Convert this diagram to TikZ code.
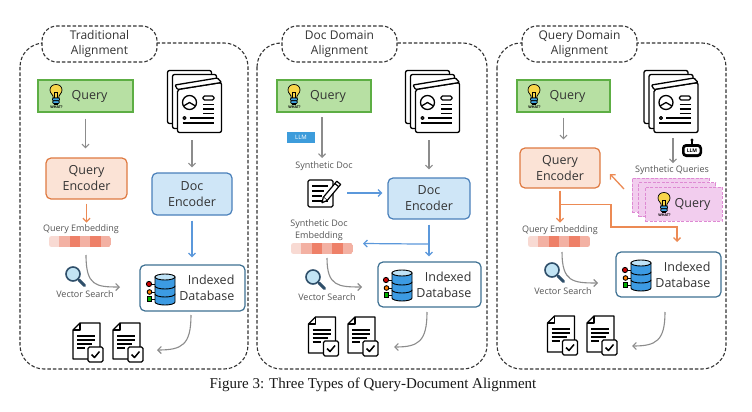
\documentclass[tikz,border=0pt]{standalone}
\usepackage{fontspec}
\setmainfont{Liberation Serif}
\newfontfamily\osans{Open Sans}
\usetikzlibrary{arrows.meta,calc}
\definecolor{qgfill}{HTML}{B7E0A3}
\definecolor{qgline}{HTML}{5DAE44}
\definecolor{qefill}{HTML}{FBE3D6}
\definecolor{qeline}{HTML}{DF7A41}
\definecolor{defill}{HTML}{CFE6F7}
\definecolor{deline}{HTML}{4A80BA}
\definecolor{dbline}{HTML}{3E7193}
\definecolor{garr}{HTML}{8C8C8C}
\definecolor{oarr}{HTML}{EC8A54}
\definecolor{barr}{HTML}{5B98DB}
\definecolor{txtgray}{HTML}{555555}
\definecolor{ttl}{HTML}{333333}
\definecolor{emba}{HTML}{F8DAD3}
\definecolor{embb}{HTML}{F3B1A3}
\definecolor{embc}{HTML}{EE8068}
\definecolor{bulbY}{HTML}{F8D54A}
\definecolor{bulbB}{HTML}{3FA3DF}
\definecolor{dbblue}{HTML}{3C9BE3}
\definecolor{dbtop}{HTML}{BFE3F7}
\definecolor{lensc}{HTML}{C2E4F4}
\definecolor{lensl}{HTML}{2F4F6A}
\definecolor{pinkf}{HTML}{F2CDEE}
\definecolor{pinkl}{HTML}{DE8AD3}
\definecolor{llmb}{HTML}{3D9CDB}
\tikzset{
 panel/.style={draw=ttl, line width=1.1pt, dash pattern=on 3.5pt off 2pt, rounded corners=24pt},
 tabbox/.style={draw=ttl, line width=1.1pt, dash pattern=on 3.5pt off 2pt, rounded corners=15pt, fill=white,
   font=\osans\fontsize{12}{15.5}\selectfont, text=ttl, align=center, inner sep=0},
 boxtext/.style={font=\osans\fontsize{12.5}{16}\selectfont, text=ttl, align=center},
 qbox/.style={fill=qgfill, draw=qgline, line width=1.2pt, minimum height=32pt, inner sep=0},
 qenc/.style={boxtext, fill=qefill, draw=qeline, line width=1.2pt, rounded corners=5pt, inner sep=0},
 denc/.style={boxtext, fill=defill, draw=deline, line width=1.2pt, rounded corners=5pt, inner sep=0},
 idb/.style={fill=white, draw=dbline, line width=1.2pt, rounded corners=5pt, inner sep=0},
 small/.style={font=\osans\fontsize{9}{12}\selectfont, text=txtgray, align=center, inner sep=0},
 iconbox/.style={inner sep=0, draw=none},
 pinkbox/.style={fill=pinkf, draw=pinkl, dash pattern=on 3pt off 1.5pt, line width=0.9pt, minimum width=77pt, minimum height=34pt, inner sep=0},
 garrow/.style={draw=garr, line width=1.1pt, -{Straight Barb[length=3.5pt,width=7pt]}},
 oarrow/.style={draw=oarr, line width=1.3pt, -{Straight Barb[length=3.5pt,width=7pt]}},
 barrow/.style={draw=barr, line width=1.2pt, -{Straight Barb[length=3.5pt,width=7pt]}},
}
\newcommand{\bulbicon}[2]{%
\begin{scope}[shift={(#1,#2)}, line width=0.7pt]
\filldraw[fill=bulbY, draw=black] (-3,1) -- (-3,-1) .. controls (-3,-2.5) and (-6,-3.5) .. (-6,-7) .. controls (-6,-10.5) and (-3.3,-12.5) .. (0,-12.5) .. controls (3.3,-12.5) and (6,-10.5) .. (6,-7) .. controls (6,-3.5) and (3,-2.5) .. (3,-1) -- (3,1) -- cycle;
\draw[line width=0.5pt] (-1.3,1) -- (-1.3,-5) -- (1.3,-5) -- (1.3,1);
\filldraw[fill=bulbB, draw=black, rounded corners=0.8pt] (-3.5,1) rectangle (3.5,3.8);
\filldraw[fill=bulbB, draw=black, rounded corners=0.8pt] (-3.2,3.8) rectangle (3.2,6.4);
\filldraw[fill=bulbB!60!black, draw=black] (-1.6,6.4) rectangle (1.6,7.8);
\node[font=\osans\bfseries\fontsize{3.6}{4}\selectfont, inner sep=0] at (0.5,10) {WHAT?};
\end{scope}}
\newcommand{\docstackicon}[2]{%
\begin{scope}[shift={(#1,#2)}, line width=1.3pt, line join=round]
\filldraw[fill=white, draw=black, rounded corners=2pt] (-27,-31) rectangle (17,22);
\filldraw[fill=white, draw=black, rounded corners=2pt] (-22,-27) rectangle (22,27);
\filldraw[fill=white, draw=black, rounded corners=2pt] (-17,-12) -- (-17,31) -- (27,31) -- (27,-19) -- cycle;
\filldraw[fill=white, draw=black, rounded corners=1pt] (-17,-12) -- (-19.5,-16.5) -- (23,-23.5) -- (27,-19) -- cycle;
\draw (-5,1) circle (7);
\draw (-11,4.5) -- (-5,1) -- (1,4.5);
\draw[rounded corners=1.5pt] (8.5,-5.5) rectangle (19.5,-1.5);
\draw (8.5,3) -- (19.5,3) (8.5,7.5) -- (19.5,7.5) (8.5,12) -- (19.5,12);
\draw (-10,16.5) circle (1.5);
\draw (-5,16.5) -- (19.5,16.5);
\draw (-12,21.5) -- (19.5,21.5);
\end{scope}}
\newcommand{\resdocicon}[2]{%
\begin{scope}[shift={(#1,#2)}, line width=1.3pt, line join=round]
\filldraw[fill=white, draw=black] (-8,-19) -- (12,-19) -- (12,17) -- (-15,17) -- (-15,-12) -- cycle;
\draw (-8,-19) -- (-8,-12) -- (-15,-12);
\draw (-11,-6) -- (7,-6) (-11,-2) -- (7,-2) (-11,2) -- (4,2) (-11,6) -- (-3,6);
\filldraw[fill=white, draw=black, rounded corners=1.5pt] (0,5) rectangle (15,20);
\draw[line width=1.5pt] (3.5,12.5) -- (6.5,15.5) -- (11.5,9.5);
\end{scope}}
\newcommand{\dbicon}[2]{%
\begin{scope}[shift={(#1,#2)}, line width=0.9pt]
\draw (-12,-5) -- (-6,-5) (-11,3) -- (-6,3) (-11,10) -- (-6,10);
\filldraw[fill=red!80!black, draw=black] (-12,-5) circle (2.6);
\filldraw[fill=orange, draw=black] (-11.5,3) circle (2.3);
\filldraw[fill=green!70!black, draw=black] (-13.7,7.8) rectangle (-9.3,12.2);
\foreach \a/\b in {5/13,-3/5,-12/-3} {
\filldraw[fill=dbblue, draw=black] (-6,\a) -- (-6,\b) arc[start angle=180, end angle=0, x radius=10, y radius=3] -- (14,\a) -- cycle;}
\filldraw[fill=dbtop, draw=black] (4,-12) ellipse [x radius=10, y radius=3];
\end{scope}}
\newcommand{\lensicon}[2]{%
\begin{scope}[shift={(#1,#2)}]
\draw[line width=3pt, line cap=round, draw=lensl] (6,6) -- (11.5,11.5);
\filldraw[fill=lensc, draw=lensl, line width=1.6pt] (0,0) circle (7);
\end{scope}}
\newcommand{\synthdocicon}[2]{%
\begin{scope}[shift={(#1,#2)}, line width=1.2pt, line join=round]
\filldraw[fill=white, draw=black, rounded corners=1.5pt] (-19,-13) rectangle (6,14);
\draw (-15,-7) -- (1,-7) (-15,-2) -- (-3,-2) (-15,3) -- (-5,3) (-15,8) -- (1,8);
\begin{scope}[shift={(4,-1)}, rotate=50]
\filldraw[fill=white, draw=black] (-9,-2.5) -- (12,-2.5) -- (12,2.5) -- (-9,2.5) -- cycle;
\filldraw[fill=white, draw=black] (-9,-2.5) -- (-14,0) -- (-9,2.5);
\draw (9,-2.5) -- (9,2.5);
\end{scope}
\end{scope}}
\newcommand{\llmicon}[2]{%
\begin{scope}[shift={(#1,#2)}]
\draw[line width=1.2pt] (0,-6) -- (0,-9);
\fill (0,-10) circle (1.6);
\fill[rounded corners=4pt] (-10,-6) rectangle (10,7);
\fill[white, rounded corners=2pt] (-7.5,-3) rectangle (7.5,4);
\node[font=\osans\bfseries\fontsize{5}{5}\selectfont, inner sep=0] at (0,0.5) {LLM};
\end{scope}}
\newcommand{\embbar}[2]{%
\begin{scope}
\clip[rounded corners=2.5pt] (#1,#2) rectangle ++(62,11);
\foreach \i/\c in {0/emba,1/embb,2/embc,3/embb,4/embc,5/embb}
  \fill[\c] ({#1+\i*10.333},#2) rectangle ++(10.5,11);
\end{scope}}
\begin{document}
\begin{tikzpicture}[x=1pt,y=-1pt]
\fill[white] (0,0) rectangle (752,412);
\useasboundingbox (0,0) rectangle (752,412);

% ================= Panel 1 =================
\draw[panel] (20,43) rectangle (248,369);
\node[tabbox, minimum width=115pt, minimum height=36pt] (t1) at (99.5,44) {Traditional\\Alignment};

\node[qbox, minimum width=95pt] (q1) at (85.5,96) {};
\node[boxtext, inner sep=0] (q1t) at (89.5,96) {Query};
\bulbicon{56}{97}

\node[qenc, minimum width=81pt, minimum height=41pt] (qe1) at (86.5,178.5) {Query\\Encoder};
\draw[garrow, shorten <=6pt, shorten >=9pt] (q1.south) -- (q1.south |- qe1.north);
\draw[oarrow, shorten <=4pt] (qe1.south) -- ++(0,23);
\node[small] (qm1) at (81,229) {Query Embedding};
\node[iconbox, minimum width=62pt, minimum height=11pt] (eb1) at (80,241.5) {};
\embbar{49}{236}
\lensicon{73}{274}
\node[small] (vs1) at (85,294) {Vector Search};
\coordinate (c1s) at (86,255);
\coordinate (c1e) at (120,287);
\draw[garrow] (c1s) .. controls (86,286) and (96,287) .. (c1e);

\node[iconbox, minimum width=55pt, minimum height=63pt] (ds1) at (194.5,101.5) {};
\docstackicon{194.5}{101.5}
\node[denc, minimum width=80pt, minimum height=42pt] (de1) at (192,194) {Doc\\Encoder};
\draw[garrow, shorten <=7pt, shorten >=5pt] (de1.north |- ds1.south) -- (de1.north);
\node[idb, minimum width=105pt, minimum height=46pt] (db1) at (192.5,288) {};
\node[boxtext, align=right, anchor=east, inner sep=0] (db1t) at ($(db1.east)+(-11,0)$) {Indexed\\Database};
\dbicon{161}{289}
\draw[barrow, shorten <=5pt, shorten >=7pt] (de1.south) -- (de1.south |- db1.north);

\node[iconbox, minimum width=30pt, minimum height=40pt] (r1a) at (88,342) {};
\node[iconbox, minimum width=30pt, minimum height=40pt] (r1b) at (128,342) {};
\resdocicon{88}{342}
\resdocicon{128}{342}
\coordinate (k1s) at (191,315);
\coordinate (k1e) at (157,350);
\draw[garrow] (k1s) .. controls (191,345) and (182,350) .. (k1e);

% ================= Panel 2 =================
\draw[panel] (257,43) rectangle (487,369);
\node[tabbox, minimum width=115pt, minimum height=36pt] (t2) at (339.5,44) {Doc Domain\\Alignment};

\node[qbox, minimum width=94pt] (q2) at (324,96) {};
\node[boxtext, inner sep=0] (q2t) at (328,96) {Query};
\bulbicon{294}{97}
\node[fill=llmb, text=white, font=\osans\fontsize{6}{7}\selectfont, minimum width=28pt, minimum height=11pt, inner sep=0] (llm2) at (301,137.5) {LLM};
\coordinate (a2s) at (322,112);
\coordinate (a2e) at (322,158);
\draw[garrow, shorten <=5pt] (a2s) -- (a2e);
\node[small] (sd2t) at (324,166) {Synthetic Doc};
\node[iconbox, minimum width=40pt, minimum height=28pt] (sd2) at (327,193) {};
\synthdocicon{327}{193}

\node[iconbox, minimum width=55pt, minimum height=63pt] (ds2) at (432.5,101.5) {};
\docstackicon{432.5}{101.5}
\node[denc, minimum width=82pt, minimum height=41pt] (de2) at (429,198.5) {Doc\\Encoder};
\draw[garrow, shorten <=7pt, shorten >=8pt] (de2.north |- ds2.south) -- (de2.north);
\draw[barrow, shorten >=5pt] (sd2.east) -- (sd2.east -| de2.west);
\node[idb, minimum width=103pt, minimum height=45pt] (db2) at (429.5,284.5) {};
\node[boxtext, align=right, anchor=east, inner sep=0] (db2t) at ($(db2.east)+(-10,0)$) {Indexed\\Database};
\dbicon{398}{285}
\draw[barrow, shorten <=5pt, shorten >=5pt] (de2.south) -- (de2.south |- db2.north);
\coordinate (b2s) at ($(de2.south)+(0,24.5)$);
\coordinate (b2e) at (363,243.5);
\draw[barrow] (b2s) -- (b2e);

\node[small] (sde2) at (319,230) {Synthetic Doc\\Embedding};
\node[iconbox, minimum width=62pt, minimum height=11pt] (eb2) at (322,248.5) {};
\embbar{291}{243}
\lensicon{313}{277}
\node[small] (vs2) at (327,297) {Vector Search};
\coordinate (c2s) at (327,258);
\coordinate (c2e) at (362,287);
\draw[garrow] (c2s) .. controls (327,286) and (338,287) .. (c2e);

\node[iconbox, minimum width=30pt, minimum height=40pt] (r2a) at (323.5,336) {};
\node[iconbox, minimum width=30pt, minimum height=40pt] (r2b) at (363,336) {};
\resdocicon{323.5}{336}
\resdocicon{363}{336}
\coordinate (k2s) at (427,312);
\coordinate (k2e) at (394,347);
\draw[garrow] (k2s) .. controls (427,342) and (418,347) .. (k2e);

% ================= Panel 3 =================
\draw[panel] (497,43) rectangle (726,369);
\node[tabbox, minimum width=115pt, minimum height=36pt] (t3) at (579.5,44) {Query Domain\\Alignment};

\node[qbox, minimum width=93pt] (q3) at (563.5,96) {};
\node[boxtext, inner sep=0] (q3t) at (567.5,96) {Query};
\bulbicon{534}{97}
\node[qenc, minimum width=80pt, minimum height=40pt] (qe3) at (560,168) {Query\\Encoder};
\draw[garrow, shorten <=5pt, shorten >=8pt] (q3.south) -- (q3.south |- qe3.north);

\node[iconbox, minimum width=55pt, minimum height=63pt] (ds3) at (671,101.5) {};
\docstackicon{671}{101.5}
\draw[garrow, shorten <=5pt] ($(ds3.south)+(2,0)$) -- ++(0,30);
\llmicon{692}{150}
\node[small] (sq3) at (672,170) {Synthetic Queries};

\node[pinkbox] (p3c) at (670.5,195) {};
\node[pinkbox] (p3b) at (677,199.5) {};
\node[pinkbox] (p3a) at (683.5,204) {};
\node[boxtext, inner sep=0] (p3t) at (692.5,204) {Query};
\bulbicon{664}{205}
\coordinate (o3s) at (624,189);
\coordinate (o3e) at (610,174);
\draw[oarrow] (o3s) -- (o3e);

\draw[oarrow, shorten <=2pt] (qe3.south) -- ++(0,34);
\coordinate (br3) at ($(qe3.south)+(0,16)$);
\coordinate (tp3) at (611,227);
\coordinate (ed3) at (677,242);
\draw[oarrow] (br3) -| (tp3) -| (ed3);

\node[small] (qm3) at (560,230) {Query Embedding};
\node[iconbox, minimum width=62pt, minimum height=11pt] (eb3) at (559,241.5) {};
\embbar{528}{236}
\lensicon{552}{270}
\node[small] (vs3) at (563,291) {Vector Search};
\coordinate (c3s) at (562,252);
\coordinate (c3e) at (598,283);
\draw[garrow] (c3s) .. controls (562,282) and (573,283) .. (c3e);

\node[idb, minimum width=105pt, minimum height=45pt] (db3) at (668.5,274.5) {};
\node[boxtext, align=right, anchor=east, inner sep=0] (db3t) at ($(db3.east)+(-11,0)$) {Indexed\\Database};
\dbicon{637}{275}

\node[iconbox, minimum width=30pt, minimum height=40pt] (r3a) at (562.5,335) {};
\node[iconbox, minimum width=30pt, minimum height=40pt] (r3b) at (602,335) {};
\resdocicon{562.5}{335}
\resdocicon{602}{335}
\coordinate (k3s) at (665,312);
\coordinate (k3e) at (632,346);
\draw[garrow] (k3s) .. controls (665,341) and (656,346) .. (k3e);

% caption
\node[font=\fontsize{15}{18}\selectfont, text=black!90, inner sep=0] (cap) at (373,385) {Figure 3: Three Types of Query-Document Alignment};
\end{tikzpicture}
\end{document}
